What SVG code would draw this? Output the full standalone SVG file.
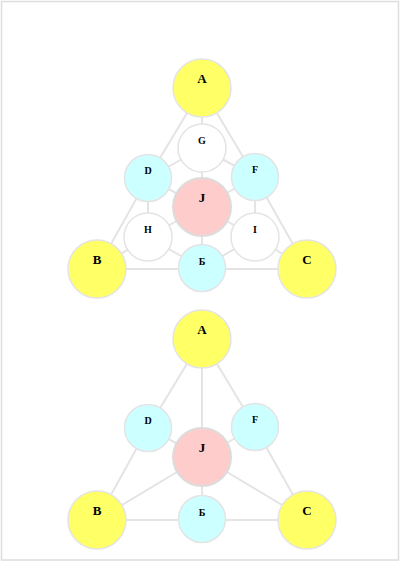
<svg xmlns="http://www.w3.org/2000/svg" width="400" height="563" viewBox="0 0 400 563">
<style>
.e{stroke:#e4e4e4;stroke-width:2;fill:none}
.n{stroke:#e4e4e4;stroke-width:1.5}
.y{fill:#ffff66}.c{fill:#ccffff}.p{fill:#ffcccc;stroke:#dcdcdc;stroke-width:2}.w{fill:#ffffff}
.t{font-family:"Liberation Serif","DejaVu Serif",serif;font-weight:bold;text-anchor:middle;fill:#000}
.L{font-size:13px}.S{font-size:10px}
</style>
<rect x="1.5" y="1.5" width="397" height="558.5" fill="#fff" stroke="#dddddd" stroke-width="1.5"/>
<g id="connectors">
<line class="e" x1="202" y1="88" x2="202" y2="148"/>
<line class="e" x1="202" y1="88" x2="148" y2="178"/>
<line class="e" x1="202" y1="88" x2="255" y2="177"/>
<line class="e" x1="148" y1="178" x2="202" y2="148"/>
<line class="e" x1="255" y1="177" x2="202" y2="148"/>
<line class="e" x1="202" y1="148" x2="202" y2="207"/>
<line class="e" x1="148" y1="178" x2="202" y2="207"/>
<line class="e" x1="255" y1="177" x2="202" y2="207"/>
<line class="e" x1="148" y1="178" x2="148" y2="237"/>
<line class="e" x1="255" y1="177" x2="255" y2="237"/>
<line class="e" x1="148" y1="178" x2="97" y2="269"/>
<line class="e" x1="255" y1="177" x2="307" y2="269"/>
<line class="e" x1="148" y1="237" x2="202" y2="207"/>
<line class="e" x1="255" y1="237" x2="202" y2="207"/>
<line class="e" x1="148" y1="237" x2="97" y2="269"/>
<line class="e" x1="255" y1="237" x2="307" y2="269"/>
<line class="e" x1="148" y1="237" x2="202" y2="268"/>
<line class="e" x1="255" y1="237" x2="202" y2="268"/>
<line class="e" x1="202" y1="207" x2="202" y2="268"/>
<line class="e" x1="97" y1="269" x2="307" y2="269"/>
<line class="e" x1="202" y1="339" x2="202" y2="457"/>
<line class="e" x1="202" y1="339" x2="148" y2="428"/>
<line class="e" x1="202" y1="339" x2="255" y2="427"/>
<line class="e" x1="148" y1="428" x2="97" y2="520"/>
<line class="e" x1="255" y1="427" x2="307" y2="520"/>
<line class="e" x1="148" y1="428" x2="202" y2="457"/>
<line class="e" x1="255" y1="427" x2="202" y2="457"/>
<line class="e" x1="97" y1="520" x2="202" y2="457"/>
<line class="e" x1="307" y1="520" x2="202" y2="457"/>
<line class="e" x1="202" y1="457" x2="202" y2="519"/>
<line class="e" x1="97" y1="520" x2="307" y2="520"/>
</g>
<g id="A1"><circle class="n y" cx="202" cy="88" r="29"/><text class="t L" x="202" y="83">A</text></g>
<g id="G1"><circle class="n w" cx="202" cy="148" r="24"/><text class="t S" x="202" y="143.5">G</text></g>
<g id="D1"><circle class="n c" cx="148" cy="178" r="23.5"/><text class="t S" x="148" y="173.5">D</text></g>
<g id="F1"><circle class="n c" cx="255" cy="177" r="23.5"/><text class="t S" x="255" y="172.5">F</text></g>
<g id="J1"><circle class="p" cx="202" cy="207" r="29"/><text class="t L" x="202" y="202">J</text></g>
<g id="H1"><circle class="n w" cx="148" cy="237" r="24"/><text class="t S" x="148" y="232.5">H</text></g>
<g id="I1"><circle class="n w" cx="255" cy="237" r="24"/><text class="t S" x="255" y="232.5">I</text></g>
<g id="E1"><circle class="n c" cx="202" cy="268" r="23.5"/><text class="t S" x="202" y="265">Б</text></g>
<g id="B1"><circle class="n y" cx="97" cy="269" r="29"/><text class="t L" x="97" y="263.5">B</text></g>
<g id="C1"><circle class="n y" cx="307" cy="269" r="29"/><text class="t L" x="307" y="263.5">C</text></g>
<g id="A2"><circle class="n y" cx="202" cy="339" r="29"/><text class="t L" x="202" y="334">A</text></g>
<g id="D2"><circle class="n c" cx="148" cy="428" r="23.5"/><text class="t S" x="148" y="423.5">D</text></g>
<g id="F2"><circle class="n c" cx="255" cy="427" r="23.5"/><text class="t S" x="255" y="422.5">F</text></g>
<g id="J2"><circle class="p" cx="202" cy="457" r="29"/><text class="t L" x="202" y="452">J</text></g>
<g id="E2"><circle class="n c" cx="202" cy="519" r="23.5"/><text class="t S" x="202" y="516">Б</text></g>
<g id="B2"><circle class="n y" cx="97" cy="520" r="29"/><text class="t L" x="97" y="514.5">B</text></g>
<g id="C2"><circle class="n y" cx="307" cy="520" r="29"/><text class="t L" x="307" y="514.5">C</text></g>
</svg>
